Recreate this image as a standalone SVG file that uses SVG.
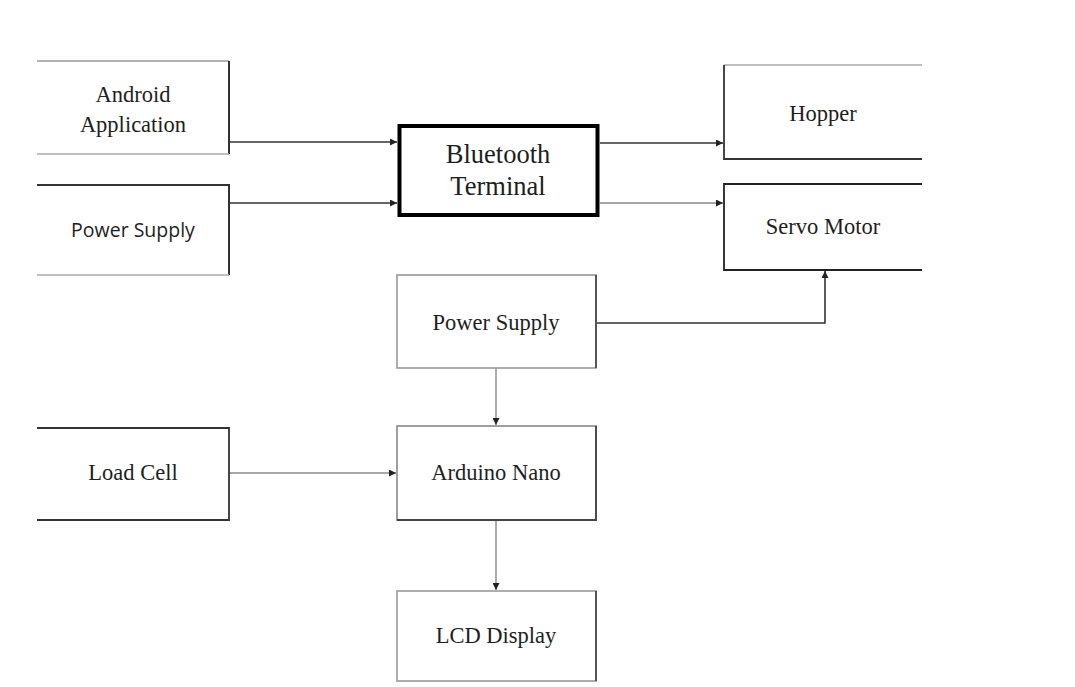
<svg xmlns="http://www.w3.org/2000/svg" width="1075" height="687" viewBox="0 0 1075 687">
<style>
.t{font-family:"Liberation Serif","Times New Roman",serif;font-size:22.5px;fill:#1e1e1e;text-anchor:middle}
.s{font-family:"Open Sans","Liberation Sans",sans-serif;font-size:19.5px;fill:#1e1e1e;text-anchor:middle}
.b{fill:#fff;stroke:#333;stroke-width:1.6}
.c{fill:none;stroke:#333;stroke-width:1.6}
.g{fill:none;stroke:#888;stroke-width:1.4}
</style>
<defs>
<marker id="a" viewBox="0 0 10 10" refX="10" refY="5" markerWidth="7" markerHeight="7" markerUnits="userSpaceOnUse" orient="auto">
<path d="M0,0 L10,5 L0,10 z" fill="#222"/>
</marker>
</defs>
<rect width="1075" height="687" fill="#fff"/>
<g id="connectors">
<path class="c" d="M229,142 H397" marker-end="url(#a)"/>
<path class="c" d="M229,203 H397" marker-end="url(#a)"/>
<path class="c" d="M600,143 H723" marker-end="url(#a)"/>
<path class="g" d="M600,203 H723" marker-end="url(#a)"/>
<path class="c" d="M596,323 H825 V271" marker-end="url(#a)"/>
<path class="g" d="M496,368 V425" marker-end="url(#a)"/>
<path class="g" d="M229,473 H396" marker-end="url(#a)"/>
<path class="g" d="M496,520 V590" marker-end="url(#a)"/>
</g>
<g id="android">
<path d="M37,61 H229" fill="none" stroke="#999" stroke-width="1.4"/>
<path d="M229,61 V154" fill="none" stroke="#333" stroke-width="2"/>
<path d="M37,154 H229" fill="none" stroke="#aaa" stroke-width="1.4"/>
<text class="t" x="133" y="102">Android</text>
<text class="t" x="133" y="132">Application</text>
</g>
<g id="power1">
<path d="M37,185 H229 V275" fill="none" stroke="#333" stroke-width="2"/>
<path d="M37,275 H229" fill="none" stroke="#aaa" stroke-width="1.4"/>
<text class="s" x="133" y="237">Power Supply</text>
</g>
<g id="bluetooth">
<rect x="399.5" y="126" width="198" height="89" fill="#fff" stroke="#000" stroke-width="4"/>
<text class="t" x="498" y="163" style="font-size:26.5px">Bluetooth</text>
<text class="t" x="498" y="195" style="font-size:26.5px">Terminal</text>
</g>
<g id="hopper">
<path d="M922,65 H724" fill="none" stroke="#aaa" stroke-width="1.4"/>
<path d="M724,65 V159 H922" fill="none" stroke="#333" stroke-width="1.8"/>
<text class="t" x="823" y="121">Hopper</text>
</g>
<g id="servo">
<path d="M922,184 H724 V270 H922" fill="none" stroke="#222" stroke-width="1.8"/>
<text class="t" x="823" y="234">Servo Motor</text>
</g>
<g id="power2">
<rect class="b" x="397" y="275" width="199" height="93" style="stroke:#999"/>
<path d="M596,275 V368" fill="none" stroke="#555" stroke-width="2"/>
<text class="t" x="496" y="330">Power Supply</text>
</g>
<g id="loadcell">
<path d="M37,428 H229 V520 H37" fill="none" stroke="#333" stroke-width="1.8"/>
<text class="t" x="133" y="480">Load Cell</text>
</g>
<g id="arduino">
<rect class="b" x="397" y="426" width="199" height="94" style="stroke:#888"/>
<path d="M596,426 V520 H397" fill="none" stroke="#444" stroke-width="1.8"/>
<text class="t" x="496" y="480">Arduino Nano</text>
</g>
<g id="lcd">
<rect class="b" x="397" y="591" width="199" height="90" style="stroke:#999"/>
<path d="M596,591 V681" fill="none" stroke="#555" stroke-width="2"/>
<text class="t" x="496" y="643">LCD Display</text>
</g>
</svg>
